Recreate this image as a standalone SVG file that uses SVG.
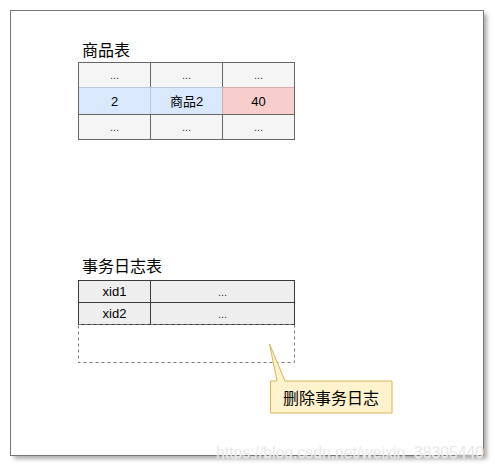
<svg xmlns="http://www.w3.org/2000/svg" width="495" height="469" viewBox="0 0 495 469">
<defs>
<filter id="sh" x="-5%" y="-5%" width="110%" height="110%"><feGaussianBlur stdDeviation="2"/></filter>
<style>
text{font-family:"Liberation Sans","Noto Sans CJK SC",Arial,sans-serif;font-size:13px;fill:#000;text-anchor:middle}
.title{font-size:16px;text-anchor:start}
.cell{stroke:#666;stroke-width:1}
.g{fill:#f5f5f5}
.dk{fill:#eeeeee;stroke:#36393d;stroke-width:1}
.dots{fill:#333;font-size:11px}
</style>
</defs>
<rect x="0" y="0" width="495" height="469" fill="#fff"/>
<g id="frame">
<rect x="14" y="14" width="473" height="445" fill="#888" opacity="0.7" filter="url(#sh)"/>
<rect x="10.5" y="10.5" width="473" height="445" fill="#fff" stroke="#777" stroke-width="1"/>
</g>
<g id="goods-table">
<text class="title" x="82" y="56">商品表</text>
<rect class="cell g" x="78.5" y="62.5" width="72" height="25"/>
<rect class="cell g" x="150.5" y="62.5" width="72" height="25"/>
<rect class="cell g" x="222.5" y="62.5" width="72" height="25"/>
<rect fill="#dae8fc" x="78.5" y="87.5" width="72" height="27" style="stroke:#b8c8de"/>
<rect fill="#dae8fc" x="150.5" y="87.5" width="72" height="27" style="stroke:#b8c8de"/>
<rect fill="#f8cecc" x="222.5" y="87.5" width="72" height="27" style="stroke:#d8aeac"/>
<rect class="cell g" x="78.5" y="114.5" width="72" height="25"/>
<rect class="cell g" x="150.5" y="114.5" width="72" height="25"/>
<rect class="cell g" x="222.5" y="114.5" width="72" height="25"/>
<rect x="78.5" y="62.5" width="216" height="77" fill="none" stroke="#666"/>
<text class="dots" x="114.5" y="79">...</text>
<text class="dots" x="186.5" y="79">...</text>
<text class="dots" x="258.5" y="79">...</text>
<text x="114.5" y="106">2</text>
<text x="186.5" y="106">商品2</text>
<text x="258.5" y="106">40</text>
<text class="dots" x="114.5" y="131">...</text>
<text class="dots" x="186.5" y="131">...</text>
<text class="dots" x="258.5" y="131">...</text>
</g>
<g id="log-table">
<text class="title" x="82" y="272">事务日志表</text>
<rect class="dk" x="78.5" y="280.5" width="72" height="22"/>
<rect class="dk" x="150.5" y="280.5" width="144" height="22"/>
<rect class="dk" x="78.5" y="302.5" width="72" height="22"/>
<rect class="dk" x="150.5" y="302.5" width="144" height="22"/>
<text x="114.5" y="296">xid1</text>
<text class="dots" x="222.5" y="296">...</text>
<text x="114.5" y="318">xid2</text>
<text class="dots" x="222.5" y="318">...</text>
<rect x="78.5" y="324.5" width="216" height="38" fill="none" stroke="#777" stroke-dasharray="3 3"/>
</g>
<g id="callout">
<path d="M270.5,381 H277 L269.5,344 L285,381 H392 V413 H270.5 Z" fill="#fff2cc" stroke="#d6b656" stroke-width="1"/>
<text x="331" y="404" style="font-size:16px">删除事务日志</text>
</g>
<g id="connectors"/>
<text x="216" y="458" textLength="268" lengthAdjust="spacingAndGlyphs" style="font-size:16px;text-anchor:start;fill:#dedede;stroke:#fff;stroke-width:0.3">https://blog.csdn.net/weixin_38305440</text>
</svg>
